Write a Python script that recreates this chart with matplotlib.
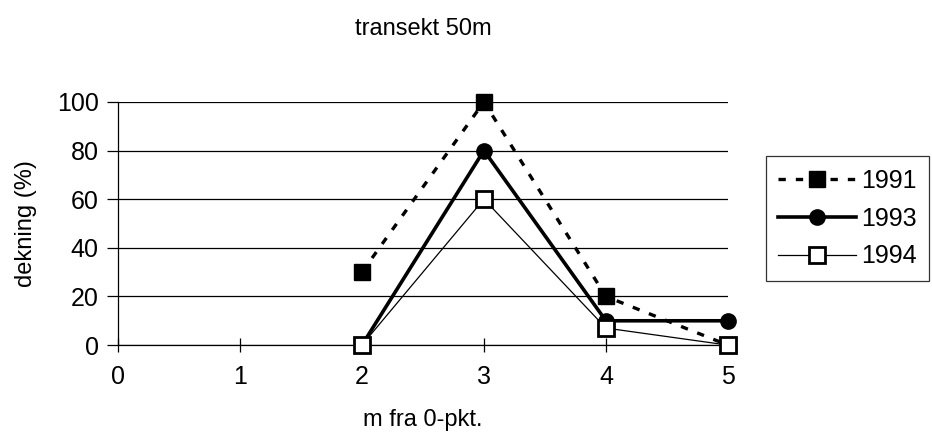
import matplotlib
matplotlib.use("Agg")
import matplotlib.pyplot as plt

plt.rcParams['font.family'] = ['Liberation Sans', 'DejaVu Sans']

# avstand fra 0-punkt (m)
avstand = [2, 3, 4, 5]
dekning_1991 = [30, 100, 20, 0]
dekning_1993 = [0, 80, 10, 10]
dekning_1994 = [0, 60, 7, 0]

fig = plt.figure(figsize=(9.32, 4.43), dpi=100)
ax = fig.add_axes([0.1266, 0.221, 0.6544, 0.549])

ax.plot(avstand, dekning_1991, color='black', linestyle=(0, (2.2, 3)), linewidth=2.4,
        marker='s', markersize=11, markerfacecolor='black', label='1991', clip_on=False, zorder=3)
ax.plot(avstand, dekning_1993, color='black', linestyle='-', linewidth=2.6,
        marker='o', markersize=11, markerfacecolor='black', label='1993', clip_on=False, zorder=4)
ax.plot(avstand, dekning_1994, color='black', linestyle='-', linewidth=0.9,
        marker='s', markersize=11, markerfacecolor='white', markeredgewidth=2,
        label='1994', clip_on=False, zorder=5)

ax.set_xlim(0, 5)
ax.set_ylim(0, 100)
ax.set_xticks(range(0, 6))
ax.set_yticks(range(0, 101, 20))
ax.yaxis.grid(True, color='black', linewidth=0.9)
ax.set_axisbelow(True)
for s in ['top', 'right']:
    ax.spines[s].set_visible(False)
ax.spines['left'].set_linewidth(0.9)
ax.spines['bottom'].set_linewidth(0.9)
ax.tick_params(axis='x', direction='inout', length=10, width=0.9, labelsize=18, pad=9)
ax.tick_params(axis='y', direction='out', length=8, width=0.9, labelsize=18, pad=6)

ax.set_title('transekt 50m', fontsize=17, pad=48)
ax.set_xlabel('m fra 0-pkt.', fontsize=17, labelpad=15)
ax.set_ylabel('dekning (%)', fontsize=17, labelpad=14)

leg = ax.legend(loc='center left', bbox_to_anchor=(1.062, 0.52), fontsize=18,
                frameon=True, fancybox=False, edgecolor='black', handlelength=3.1,
                handletextpad=0.2, borderpad=0.5, labelspacing=0.55, borderaxespad=0)
leg.get_frame().set_linewidth(0.9)

fig.savefig('out.png', dpi=100)
